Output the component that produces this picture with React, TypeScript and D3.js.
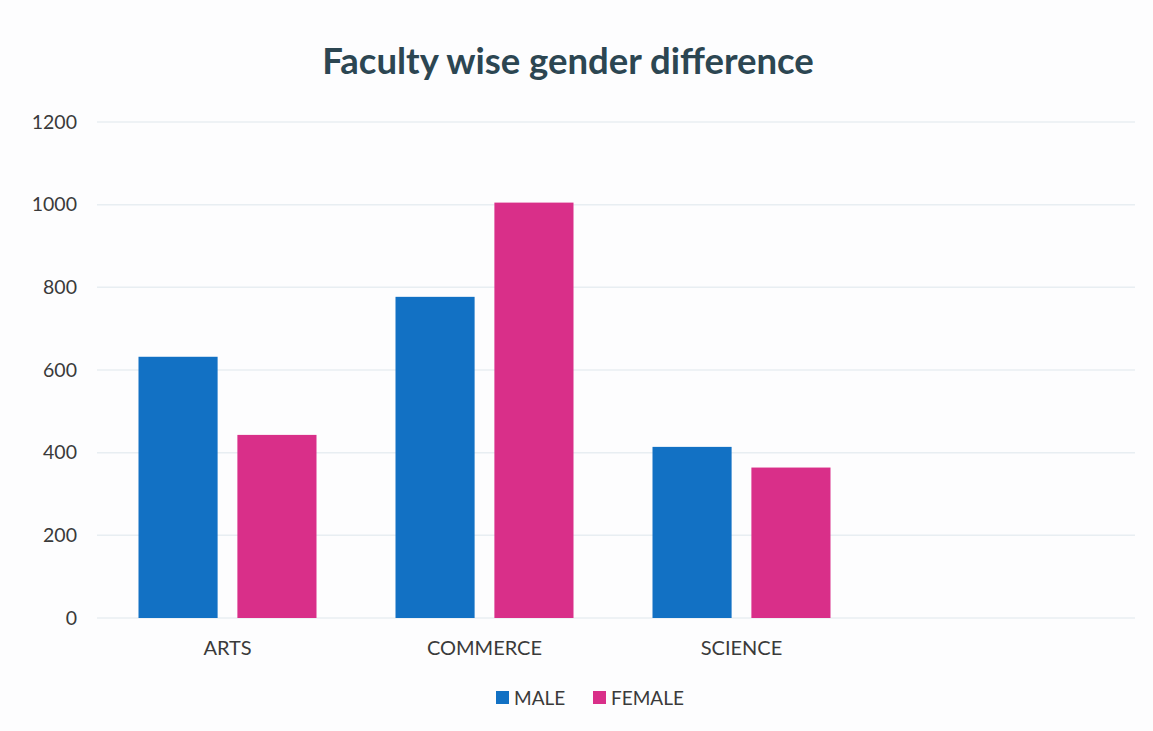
import React from "react";
import * as d3 from "d3";

const categories = ["ARTS", "COMMERCE", "SCIENCE", ""];
const seriesNames = ["MALE", "FEMALE"];
const maleValues = [632, 777, 414, null];
const femaleValues = [443, 1005, 364, null];
const yTicks = [0, 200, 400, 600, 800, 1000, 1200];
const colors = ["#1271c4", "#d92f89"];

const W = 1153;
const H = 731;
const margin = { left: 99, right: 26, top: 122, bottom: 113 };
const font = "Lato, 'Open Sans', sans-serif";

const App = () => {
  const ref = React.useRef<SVGSVGElement>(null);

  React.useEffect(() => {
    const svg = d3.select(ref.current);
    svg.selectAll("*").remove();

    const x0 = d3.scaleBand<string>()
      .domain(categories)
      .range([margin.left, W - margin.right]);
    const side = (x0.bandwidth() - 178) / 2;
    const x1 = d3.scaleBand<string>()
      .domain(seriesNames)
      .range([side, x0.bandwidth() - side])
      .paddingInner(0.2);
    const y = d3.scaleLinear()
      .domain([0, 1200])
      .range([H - margin.bottom, margin.top]);

    svg.append("rect").attr("width", W).attr("height", H).attr("fill", "#fdfdfe");

    // title
    svg.append("text")
      .attr("x", 568)
      .attr("y", 74)
      .attr("text-anchor", "middle")
      .attr("font-family", font)
      .attr("font-weight", "bold")
      .attr("font-size", 36.5)
      .attr("fill", "#2c4652")
      .text("Faculty wise gender difference");

    // grid
    svg.append("g")
      .selectAll("line")
      .data(yTicks)
      .join("line")
      .attr("x1", margin.left - 2)
      .attr("x2", W - margin.right + 8)
      .attr("y1", d => y(d))
      .attr("y2", d => y(d))
      .attr("stroke", "#e8eef2")
      .attr("stroke-width", 1.5);

    // y labels
    svg.append("g")
      .selectAll("text")
      .data(yTicks)
      .join("text")
      .attr("x", 77)
      .attr("y", d => y(d))
      .attr("dy", "0.35em")
      .attr("text-anchor", "end")
      .attr("font-family", font)
      .attr("font-size", 19.5)
      .attr("fill", "#3a3a3a")
      .text(d => d);

    const rows = categories.map((c, i) => ({ c, vals: [maleValues[i], femaleValues[i]] }));

    const groups = svg.append("g")
      .selectAll("g")
      .data(rows)
      .join("g")
      .attr("transform", d => `translate(${x0(d.c)},0)`);

    groups.selectAll("rect")
      .data(d => d.vals.map((v, j) => ({ name: seriesNames[j], v, j })).filter(e => e.v != null))
      .join("rect")
      .attr("x", d => x1(d.name)!)
      .attr("width", x1.bandwidth())
      .attr("y", d => y(d.v as number))
      .attr("height", d => y(0) - y(d.v as number))
      .attr("fill", d => colors[d.j]);

    // category labels
    svg.append("g")
      .selectAll("text")
      .data(categories)
      .join("text")
      .attr("x", d => x0(d)! + x0.bandwidth() / 2)
      .attr("y", 655)
      .attr("text-anchor", "middle")
      .attr("font-family", font)
      .attr("font-size", 20)
      .attr("fill", "#3a3a3a")
      .text(d => d);

    // legend
    const legend = svg.append("g").attr("transform", "translate(496,698)");
    const items = [
      { name: seriesNames[0], x: 0 },
      { name: seriesNames[1], x: 97 },
    ];
    items.forEach((it, i) => {
      legend.append("rect")
        .attr("x", it.x)
        .attr("y", -7)
        .attr("width", 13)
        .attr("height", 13)
        .attr("fill", colors[i]);
      legend.append("text")
        .attr("x", it.x + 18)
        .attr("y", 0)
        .attr("dy", "0.35em")
        .attr("font-family", font)
        .attr("font-size", 19)
        .attr("fill", "#3a3a3a")
        .text(it.name);
    });
  }, []);

  return (
    <svg
      ref={ref}
      width={W}
      height={H}
      style={{ position: "absolute", left: 0, top: 0 }}
    />
  );
};

export default App;
